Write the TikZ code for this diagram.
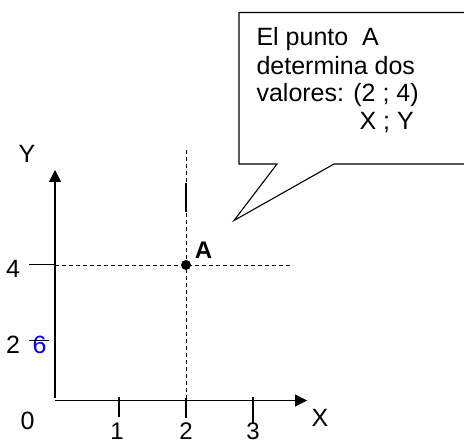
\documentclass[tikz,border=0pt]{standalone}
\usepackage{fontspec}
\setmainfont{Liberation Sans}
\usetikzlibrary{arrows.meta}
\begin{document}
\begin{tikzpicture}[x=1bp,y=-1bp, line width=1.1bp,
  txt/.style={inner sep=0pt, font=\fontsize{25bp}{28bp}\selectfont},
  tick/.style={inner sep=0pt, font=\fontsize{24bp}{28bp}\selectfont},
  dsh/.style={line width=1bp, dash pattern=on 4bp off 3bp},
  axis/.style={-{Triangle[length=12bp,width=12bp]}}]
\useasboundingbox (0,0) rectangle (464,445);
% axes
\coordinate (O) at (55,400.5);
\coordinate (Xend) at (307,400.5);
\coordinate (Ytop) at (55,170);
\coordinate (Ybot) at (55,398);
\draw[axis] (O) -- (Xend);
\draw[axis] (Ybot) -- (Ytop);
% point A and guides
\coordinate (P) at (186,265);
\coordinate (Vtop) at (186,150);
\coordinate (Vbot) at (186,398);
\coordinate (Hl) at (55,265);
\coordinate (Hr) at (293,265);
\draw[dsh] (Vtop) -- (Vbot);
\draw[dsh] (Hl) -- (Hr);
\draw (186,183) -- (186,212);
\fill (P) circle (5);
% labels and ticks
\node[txt, text=blue] (six) at (39.5,345) {6};
\draw (29,264.5) -- (55,264.5);
\draw (29,340.5) -- (49,340.5);
\draw (119,397) -- (119,417);
\draw (186,398) -- (186,418);
\draw (253,397) -- (253,423);
\node[txt] (ylab) at (27,154) {Y};
\node[txt] (xlab) at (320,418) {X};
\node[txt] (y4) at (13,269) {4};
\node[txt] (y2) at (13,345) {2};
\node[txt] (zero) at (27.5,421) {0};
\node[tick] (x1) at (117,431.5) {1};
\node[tick] (x2) at (186,431.5) {2};
\node[tick] (x3) at (253,431.5) {3};
\node[txt, font=\fontsize{24bp}{28bp}\selectfont\bfseries] (alab) at (203.5,250) {A};
% callout
\draw[line join=miter] (466,12.5) -- (239,12.5) -- (239,164) -- (277,164) -- (234,220.5) -- (334,164) -- (466,164);
\node[txt, anchor=base west] (l1) at (256,46) {El punto\ \ A};
\node[txt, anchor=base west] (l2) at (256,74.3) {determina dos};
\node[txt, anchor=base west] (l3) at (256,102) {valores: (2 ; 4)};
\node[txt, anchor=base west] (l4) at (359,130) {X ; Y};
\end{tikzpicture}
\end{document}
